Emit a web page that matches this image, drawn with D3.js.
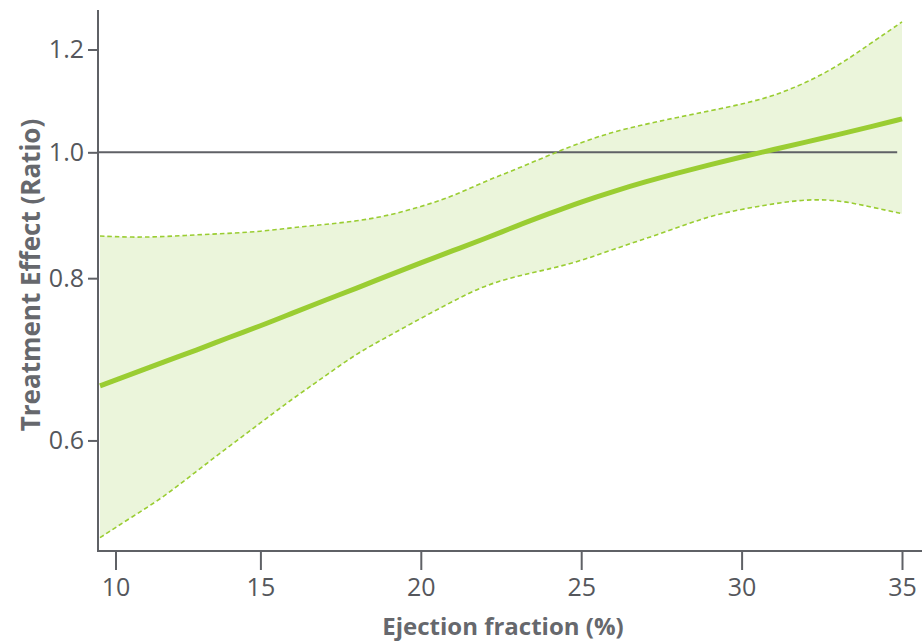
<!DOCTYPE html>
<html>
<head>
<meta charset="utf-8">
<script src="https://cdn.jsdelivr.net/npm/d3@7"></script>
<style>
  html, body { margin: 0; padding: 0; background: #ffffff; }
  svg { display: block; }
  svg text { font-family: "Open Sans", "Noto Sans", sans-serif; }
</style>
</head>
<body>
<svg id="chart" width="922" height="643"></svg>
<script>
// Ejection fraction (%) at which the effect curve is evaluated
const ejectionFraction = [10, 11, 12, 13, 14, 15, 16, 17, 18, 19, 20, 21, 22,
  23, 24, 25, 26, 27, 28, 29, 30, 31, 32, 33, 34, 35];

// Estimated treatment effect (ratio)
const effect = [0.661, 0.675, 0.690, 0.704, 0.720, 0.735, 0.752, 0.769, 0.786,
  0.804, 0.822, 0.840, 0.858, 0.878, 0.897, 0.916, 0.933, 0.949, 0.964, 0.978,
  0.992, 1.005, 1.018, 1.032, 1.046, 1.061];

// Upper confidence limit
const upper = [0.862, 0.860, 0.861, 0.864, 0.866, 0.869, 0.875, 0.880, 0.885,
  0.894, 0.908, 0.925, 0.950, 0.971, 0.995, 1.018, 1.037, 1.051, 1.064, 1.076,
  1.089, 1.105, 1.131, 1.165, 1.212, 1.260];

// Lower confidence limit
const lower = [0.505, 0.524, 0.543, 0.568, 0.593, 0.619, 0.646, 0.672, 0.700,
  0.722, 0.745, 0.768, 0.790, 0.803, 0.813, 0.825, 0.842, 0.858, 0.875, 0.893,
  0.904, 0.913, 0.920, 0.919, 0.908, 0.897];

// Axis ticks and labels
const xTicks = [10, 15, 20, 25, 30, 35];
const yTicks = [0.6, 0.8, 1.0, 1.2];
const xTitle = "Ejection fraction (%)";
const yTitle = "Treatment Effect (Ratio)";
const noEffect = 1.0;
const noEffectEnd = 34.85;

const svg = d3.select("#chart");
const W = 922, H = 643;
const axisX = 98, axisY = 551, topY = 10;
const fontFamily = '"Open Sans", "Noto Sans", sans-serif';

const x = d3.scaleLinear().domain([10, 35]).range([100, 902]);
const y = d3.scaleLog().domain([0.4932, 1.287]).range([axisY, topY]);

const rows = ejectionFraction.map((ef, i) => ({
  ef, est: effect[i], lo: lower[i], hi: upper[i]
}));

const green = "#9acd32";
const grey = "#5f6166";
const curve = d3.curveBasis;

// Confidence band
svg.append("path")
  .datum(rows)
  .attr("fill", "#ebf5db")
  .attr("d", d3.area()
    .curve(curve)
    .x(d => x(d.ef))
    .y0(d => y(d.lo))
    .y1(d => y(d.hi)));

// Line of no effect
svg.append("line")
  .attr("x1", axisX).attr("x2", x(noEffectEnd))
  .attr("y1", y(noEffect)).attr("y2", y(noEffect))
  .attr("stroke", grey).attr("stroke-width", 2);

// Confidence limits and estimate share one line generator
const seriesLine = key => d3.line()
  .curve(curve)
  .x(d => x(d.ef))
  .y(d => y(d[key]));

["lo", "hi"].forEach(key => {
  svg.append("path")
    .datum(rows)
    .attr("fill", "none")
    .attr("stroke", green)
    .attr("stroke-width", 1.6)
    .attr("stroke-dasharray", "4.5,3")
    .attr("d", seriesLine(key));
});

svg.append("path")
  .datum(rows)
  .attr("fill", "none")
  .attr("stroke", green)
  .attr("stroke-width", 5)
  .attr("d", seriesLine("est"));

// Y axis
const gy = svg.append("g")
  .attr("transform", `translate(${axisX},0)`)
  .call(d3.axisLeft(y)
    .tickValues(yTicks)
    .tickFormat(d3.format(".1f"))
    .tickSize(10)
    .tickSizeOuter(0)
    .tickPadding(4))
  .attr("font-family", fontFamily)
  .attr("font-size", 25);
gy.select(".domain").remove();
gy.append("line")
  .attr("x1", 0).attr("x2", 0)
  .attr("y1", topY).attr("y2", axisY)
  .attr("stroke", grey).attr("stroke-width", 2);
gy.selectAll(".tick line").attr("stroke", grey).attr("stroke-width", 2);
gy.selectAll(".tick text").attr("fill", "#55575c");

// X axis
const gx = svg.append("g")
  .attr("transform", `translate(0,${axisY})`)
  .call(d3.axisBottom(x)
    .tickValues(xTicks)
    .tickSize(19)
    .tickSizeOuter(0)
    .tickPadding(8))
  .attr("font-family", fontFamily)
  .attr("font-size", 25);
gx.select(".domain").remove();
gx.append("line")
  .attr("x1", axisX - 1).attr("x2", W)
  .attr("y1", 0).attr("y2", 0)
  .attr("stroke", grey).attr("stroke-width", 2);
gx.selectAll(".tick line").attr("stroke", grey).attr("stroke-width", 2);
gx.selectAll(".tick text").attr("fill", "#55575c");
// shift the first tick clear of the vertical axis
gx.selectAll(".tick")
  .filter(d => d === xTicks[0])
  .attr("transform", `translate(${x(xTicks[0]) + 16},0)`);

// Axis titles
svg.append("text")
  .attr("x", 503)
  .attr("y", 635)
  .attr("text-anchor", "middle")
  .attr("fill", "#66686d")
  .style("font-size", "24px")
  .style("font-weight", "bold")
  .text(xTitle);

svg.append("text")
  .attr("transform", `translate(40,275) rotate(-90)`)
  .attr("text-anchor", "middle")
  .attr("fill", "#66686d")
  .style("font-size", "26px")
  .style("font-weight", "bold")
  .text(yTitle);
</script>
</body>
</html>
